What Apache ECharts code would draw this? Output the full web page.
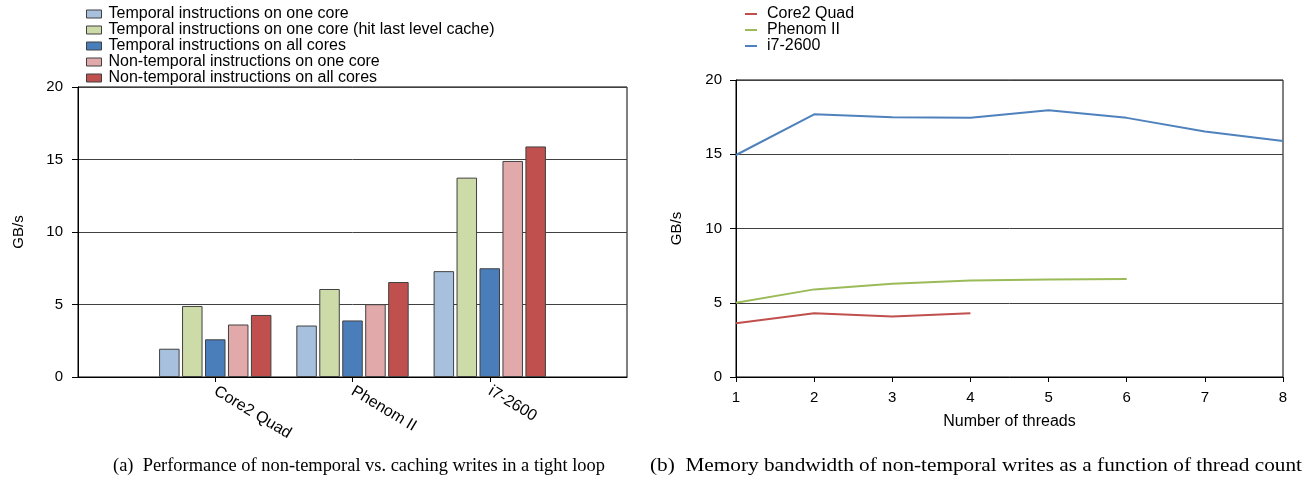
<!DOCTYPE html>
<html>
<head>
<meta charset="utf-8">
<script src="https://cdn.jsdelivr.net/npm/echarts@6/dist/echarts.min.js"></script>
<style>
html,body{margin:0;padding:0;background:#fff;}
#chart{width:1307px;height:482px;}
</style>
</head>
<body>
<div id="chart"></div>
<script>
// ---- Data (left chart: bars) ----
const cpuCategories = ['', 'Core2 Quad', 'Phenom II', 'i7-2600', ''];
const barSeriesNames = [
  'Temporal instructions on one core',
  'Temporal instructions on one core (hit last level cache)',
  'Temporal instructions on all cores',
  'Non-temporal instructions on one core',
  'Non-temporal instructions on all cores'
];
const temporalOneCore      = [null, 1.95, 3.55, 7.3, null];
const temporalOneCoreLLC   = [null, 4.9, 6.07, 13.75, null];
const temporalAllCores     = [null, 2.6, 3.9, 7.5, null];
const nonTemporalOneCore   = [null, 3.62, 5.02, 14.9, null];
const nonTemporalAllCores  = [null, 4.28, 6.55, 15.9, null];
const barColors = ['#A7C0DE', '#CCDBA8', '#4A7EBB', '#E2A9AA', '#C0504D'];

// ---- Data (right chart: lines) ----
const threadCounts = ['1', '2', '3', '4', '5', '6', '7', '8'];
const lineSeriesNames = ['Core2 Quad', 'Phenom II', 'i7-2600'];
const core2Quad = [3.62, 4.3, 4.07, 4.3];
const phenomII  = [5.0, 5.9, 6.28, 6.49, 6.56, 6.6];
const i72600    = [14.95, 17.69, 17.49, 17.45, 17.97, 17.45, 16.53, 15.9];
const lineColors = ['#C0504D', '#9BBB59', '#4F81BD'];

const yTicks = [0, 5, 10, 15, 20];

const captionA = '(a)  Performance of non-temporal vs. caching writes in a tight loop';
const captionB = '(b)  Memory bandwidth of non-temporal writes as a function of thread count';

const FONT = 'Liberation Sans, Arial, sans-serif';
const CAPFONT = '18px "Liberation Serif", "Times New Roman", serif';
const chart = echarts.init(document.getElementById('chart'), null, {renderer: 'canvas'});

const barData = [temporalOneCore, temporalOneCoreLLC, temporalAllCores, nonTemporalOneCore, nonTemporalAllCores];
const lineData = [core2Quad, phenomII, i72600];

function measure(text, font) {
  const c = document.createElement('canvas').getContext('2d');
  c.font = font;
  return c.measureText(text).width;
}

const yAxisCommon = (gridIndex, margin) => ({
  type: 'value', gridIndex: gridIndex,
  min: yTicks[0], max: yTicks[yTicks.length - 1], interval: 5,
  name: 'GB/s', nameLocation: 'middle', nameGap: 52,
  nameTextStyle: {fontFamily: FONT, fontSize: 15, color: '#000'},
  axisLine: {show: true, lineStyle: {color: '#000', width: 1}},
  axisTick: {show: true, length: 6, lineStyle: {color: '#000'}},
  axisLabel: {fontFamily: FONT, fontSize: 15, color: '#000', margin: margin},
  splitLine: {show: true, lineStyle: {color: '#404040', width: 1}}
});

const option = {
  animation: false,
  backgroundColor: '#fff',
  textStyle: {fontFamily: FONT},
  grid: [
    {left: 78, top: 87, width: 549, height: 290, show: true, borderColor: '#000', borderWidth: 1, containLabel: false},
    {left: 736, top: 80, width: 547, height: 297, show: true, borderColor: '#000', borderWidth: 1, containLabel: false}
  ],
  legend: [
    {
      orient: 'vertical', left: 86, top: 6, itemGap: 0, padding: 0,
      itemWidth: 15, itemHeight: 8,
      data: barSeriesNames.map(n => ({name: n, icon: 'rect'})),
      textStyle: {fontFamily: FONT, fontSize: 16, color: '#000', lineHeight: 16, padding: [0, 0, 0, 2]},
      itemStyle: {borderColor: '#404040', borderWidth: 1}
    },
    {
      orient: 'vertical', left: 745, top: 6, itemGap: 0, padding: 0,
      itemWidth: 12, itemHeight: 2,
      data: lineSeriesNames.map(n => ({name: n, icon: 'rect'})),
      textStyle: {fontFamily: FONT, fontSize: 16, color: '#000', lineHeight: 16, padding: [0, 0, 0, 5]}
    }
  ],
  xAxis: [
    {
      type: 'category', gridIndex: 0, data: cpuCategories, boundaryGap: false,
      axisLine: {show: true, lineStyle: {color: '#000'}},
      axisTick: {show: true, length: 5, interval: (i) => i >= 1 && i <= 3, lineStyle: {color: '#000'}},
      axisLabel: {interval: 0, rotate: -31, fontFamily: FONT, fontSize: 16, color: '#000', margin: 13},
      splitLine: {show: false}
    },
    {
      type: 'category', gridIndex: 1, data: threadCounts, boundaryGap: false,
      name: 'Number of threads', nameLocation: 'middle', nameGap: 37,
      nameTextStyle: {fontFamily: FONT, fontSize: 16, color: '#000'},
      axisLine: {show: true, lineStyle: {color: '#000'}},
      axisTick: {show: true, length: 5, interval: 0, lineStyle: {color: '#000'}},
      axisLabel: {interval: 0, fontFamily: FONT, fontSize: 15, color: '#000', margin: 13},
      splitLine: {show: false}
    }
  ],
  yAxis: [yAxisCommon(0, 15), yAxisCommon(1, 14)],
  series: [
    ...barData.map((d, i) => ({
      type: 'bar', name: barSeriesNames[i], xAxisIndex: 0, yAxisIndex: 0,
      data: d, barWidth: 20.5, barGap: '12%',
      itemStyle: {color: barColors[i], borderColor: '#404040', borderWidth: 1}
    })),
    ...lineData.map((d, i) => ({
      type: 'line', name: lineSeriesNames[i], xAxisIndex: 1, yAxisIndex: 1,
      data: d, showSymbol: false, symbol: 'none',
      itemStyle: {color: lineColors[i]},
      lineStyle: {color: lineColors[i], width: 2}
    }))
  ],
  graphic: [
    {type: 'text', x: 113, y: 457, scaleX: 492 / measure(captionA, CAPFONT),
     style: {text: captionA, font: CAPFONT, fill: '#000'}},
    {type: 'text', x: 650, y: 457, scaleX: 652 / measure(captionB, CAPFONT),
     style: {text: captionB, font: CAPFONT, fill: '#000'}}
  ]
};
chart.setOption(option);
</script>
</body>
</html>
